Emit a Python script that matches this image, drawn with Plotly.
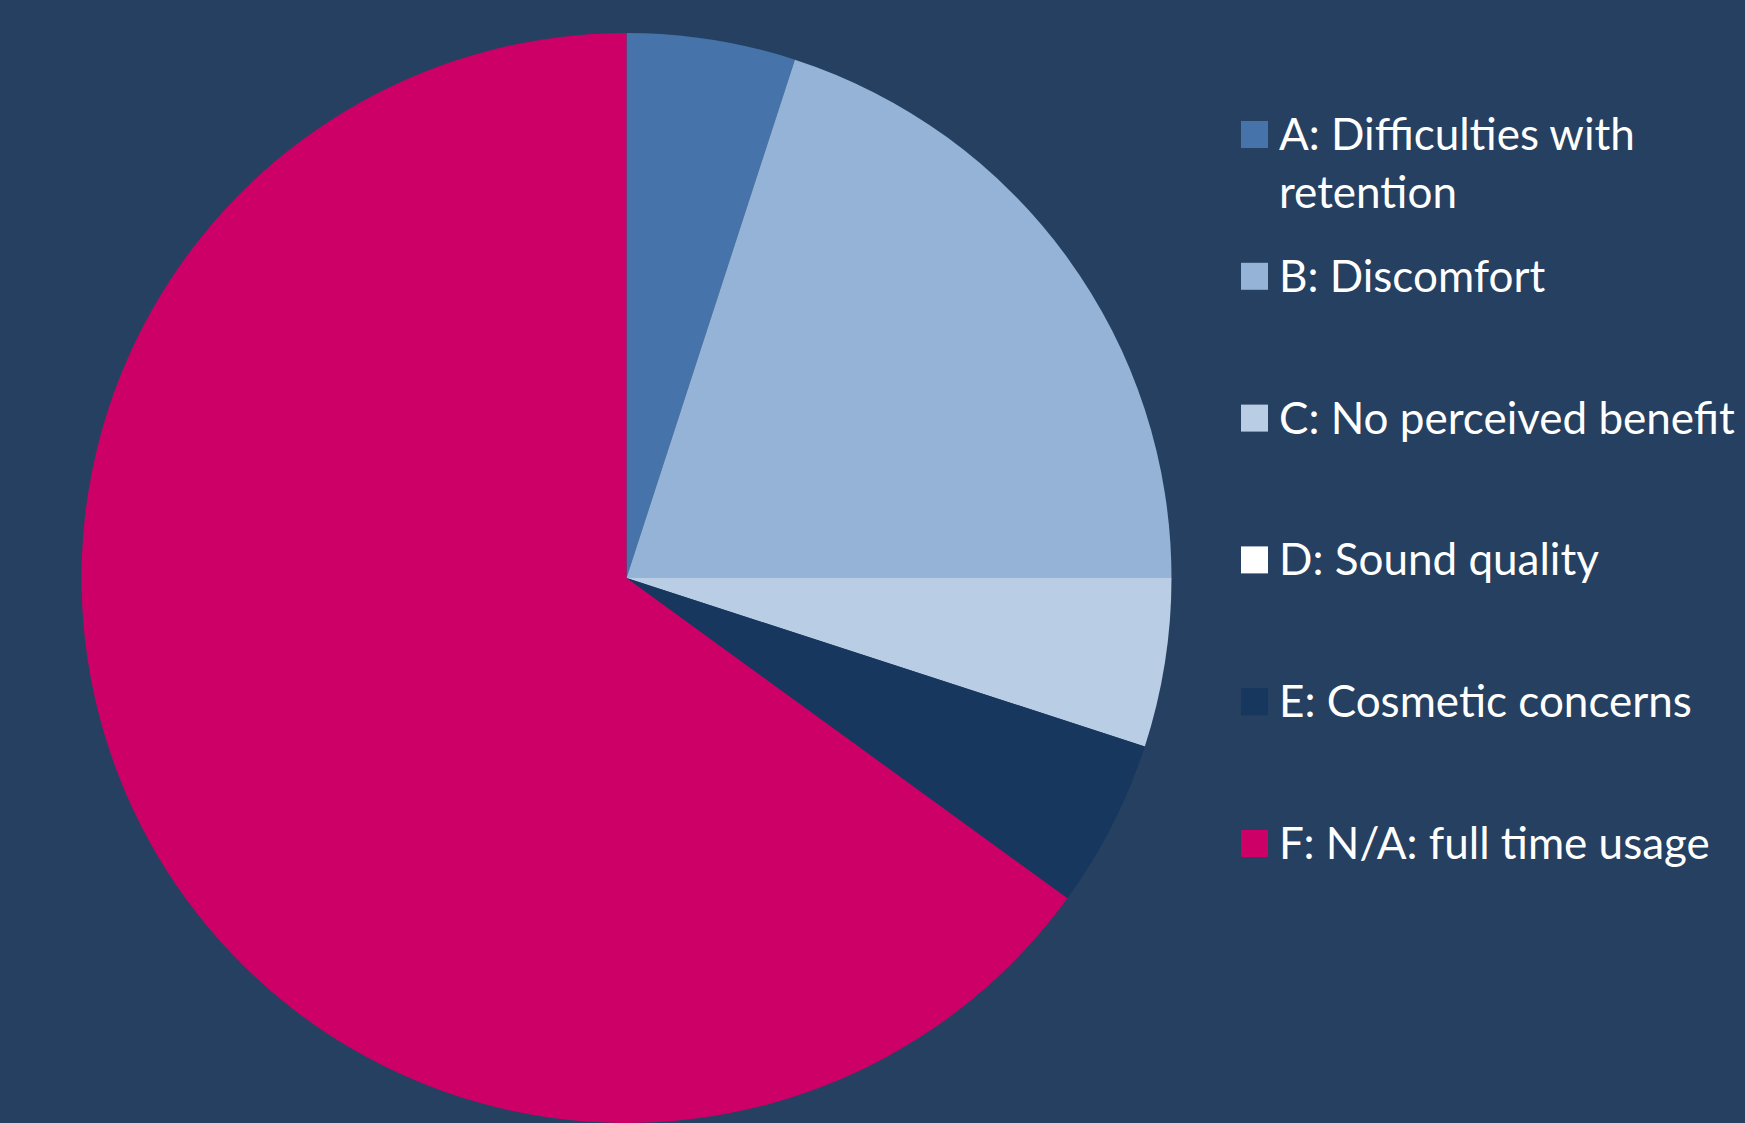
import plotly.graph_objects as go

W, H = 1745, 1123

labels = ["A: Difficulties with retention", "B: Discomfort", "C: No perceived benefit",
          "D: Sound quality", "E: Cosmetic concerns", "F: N/A: full time usage"]
legend_lines = [["A: Difficulties with", "retention"], ["B: Discomfort"], ["C: No perceived benefit"],
                ["D: Sound quality"], ["E: Cosmetic concerns"], ["F: N/A: full time usage"]]
values = [1, 4, 1, 0, 1, 13]
colors = ["#4674AA", "#95B3D7", "#B9CDE5", "#FFFFFF", "#17375E", "#CC0066"]
bg = "#254061"

# pie placement (pixels)
cx, top = 626.5, 33
r = (H - top) / 2
fig = go.Figure(go.Pie(
    labels=labels, values=values, sort=False, direction="clockwise", rotation=0,
    marker=dict(colors=colors, line=dict(width=0)),
    textinfo="none", hoverinfo="label+percent", showlegend=False,
    domain=dict(x=[(cx - r) / W, (cx + r) / W], y=[0, 1 - top / H]),
))

# legend layout (pixels)
box_x0, box_size, text_x = 1241, 27, 1277
first_center, pitch, line_gap = 133, 141.8, 58
font_size = 44
shapes, annotations = [], []
for i, (lines, col) in enumerate(zip(legend_lines, colors)):
    cy = first_center + i * pitch
    shapes.append(dict(type="rect", xref="paper", yref="paper",
                       x0=box_x0 / W, x1=(box_x0 + box_size) / W,
                       y0=1 - (cy + 1.5 - box_size / 2) / H, y1=1 - (cy + 1.5 + box_size / 2) / H,
                       fillcolor=col, line=dict(width=0)))
    for k, ln in enumerate(lines):
        annotations.append(dict(text=ln, xref="paper", yref="paper", x=text_x / W,
                                y=1 - (cy + k * line_gap) / H, xanchor="left", yanchor="middle",
                                showarrow=False, font=dict(family="Lato", size=font_size, color="white")))

fig.update_layout(width=W, height=H, margin=dict(l=0, r=0, t=0, b=0),
                  paper_bgcolor=bg, plot_bgcolor=bg, shapes=shapes, annotations=annotations)
fig.write_html("out.html")
